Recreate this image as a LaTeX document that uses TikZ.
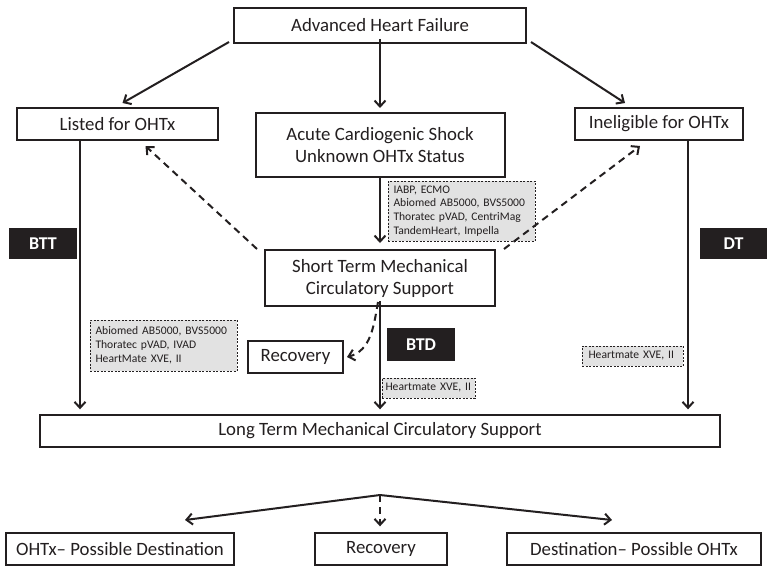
\documentclass[tikz,border=0pt]{standalone}
\usepackage{fontspec}
\setmainfont{Carlito}
\usetikzlibrary{arrows.meta,calc}
\definecolor{devfill}{HTML}{E2E2E2}
\definecolor{ink}{HTML}{231F20}
\begin{document}
\begin{tikzpicture}[x=1pt,y=-1pt,
  box/.style={draw=ink,line width=2pt,inner sep=0pt,align=center,
    font=\fontsize{18.8}{22}\selectfont,text=ink},
  devbox/.style={draw=ink,line width=0.8pt,dash pattern=on 2pt off 1.5pt,
    fill=devfill,inner sep=0pt,align=left,text=ink,
    font=\fontsize{11.6}{13.8}\selectfont},
  tag/.style={fill=ink,text=white,inner sep=0pt,
    font=\fontsize{18}{20}\selectfont\bfseries},
  arr/.style={draw=ink,line width=2pt,-{Straight Barb[length=6pt,width=11pt,line width=2pt]}},
  darr/.style={arr,dash pattern=on 7pt off 5pt}]
\useasboundingbox (0,0) rectangle (767,566);
\fill[white] (0,0) rectangle (767,566);

\node[box,minimum width=292pt,minimum height=35pt] (ahf) at (380,25.5) {Advanced Heart Failure};
\node[box,minimum width=201pt,minimum height=32pt] (listed) at (117.5,124) {Listed for OHTx};
\node[box,minimum width=249pt,minimum height=64pt] (acute) at (380,145) {Acute Cardiogenic Shock\\Unknown OHTx Status};
\node[box,minimum width=168pt,minimum height=32pt] (inelig) at (659,124) {Ineligible for OHTx};

\node[devbox,minimum width=147pt,minimum height=60pt,text width=136pt] (dev1) at (461.5,211)
  {IABP, ECMO\\Abiomed AB5000, BVS5000\\Thoratec pVAD, CentriMag\\TandemHeart, Impella};

\node[tag,minimum width=68pt,minimum height=31pt] (btt) at (43,243.5) {BTT};
\node[tag,minimum width=67pt,minimum height=31pt] (dt) at (733.5,243.5) {DT};

\node[box,minimum width=230pt,minimum height=56pt] (stmcs) at (380,278) {Short Term Mechanical\\Circulatory Support};

\node[devbox,minimum width=147pt,minimum height=51pt,text width=136pt] (dev2) at (163.5,345.5)
  {Abiomed AB5000, BVS5000\\Thoratec pVAD, IVAD\\HeartMate XVE, II};
\node[box,minimum width=95pt,minimum height=32pt] (rec1) at (295.5,357) {Recovery};
\node[tag,minimum width=68pt,minimum height=33pt] (btd) at (421,344.5) {BTD};
\node[devbox,minimum width=93pt,minimum height=20pt,text width=86pt] (dev3) at (428.5,388) {Heartmate XVE, II};
\node[devbox,minimum width=101pt,minimum height=20pt,text width=88pt] (dev4) at (632.5,356) {Heartmate XVE, II};

\node[box,minimum width=680pt,minimum height=32pt,line width=1.4pt] (ltmcs) at (380,431) {Long Term Mechanical Circulatory Support};

\node[box,minimum width=228pt,minimum height=32pt,line width=1.4pt] (b1) at (120,549) {OHTx– Possible Destination};
\node[box,minimum width=132pt,minimum height=32pt,line width=1.4pt] (b2) at (381,549) {Recovery};
\node[box,minimum width=254pt,minimum height=32pt,line width=1.4pt] (b3) at (634,549) {Destination– Possible OHTx};

% connectors
\draw[arr] ([xshift=-4pt,yshift=2pt]ahf.south west) -- ([xshift=5pt,yshift=4pt]listed.north);
\draw[arr] ([yshift=5pt]ahf.south) -- ([yshift=4pt]acute.north);
\draw[arr] ([xshift=4pt,yshift=2pt]ahf.south east) -- ([xshift=-34pt,yshift=4pt]inelig.north);
\draw[arr] ([yshift=1pt]acute.south) -- ([yshift=6pt]stmcs.north);
\draw[arr] ([xshift=-37.5pt]listed.south) -- ([xshift=-37.5pt,yshift=5pt]listed.south |- ltmcs.north);
\draw[arr] ([xshift=29pt]inelig.south) -- ([xshift=29pt,yshift=5pt]inelig.south |- ltmcs.north);
\draw[darr] ([xshift=-7pt]stmcs.north west) -- ([xshift=28pt,yshift=-5pt]listed.south);
\draw[darr] ([xshift=8pt]stmcs.north east) -- ([xshift=-19pt,yshift=-5pt]inelig.south);
\draw[darr] ([xshift=-2pt,yshift=5pt]stmcs.south) to[out=-100,in=15] ([xshift=3pt]rec1.east);
\draw[arr] ([yshift=6pt]stmcs.south) -- ([yshift=5pt]ltmcs.north);
\coordinate (fk) at (380,495);
\draw[arr] (fk) -- (185,520);
\draw[darr] (fk) -- ([yshift=6pt]b2.north -| fk);
\draw[arr] (fk) -- (612,520);
\end{tikzpicture}
\end{document}
